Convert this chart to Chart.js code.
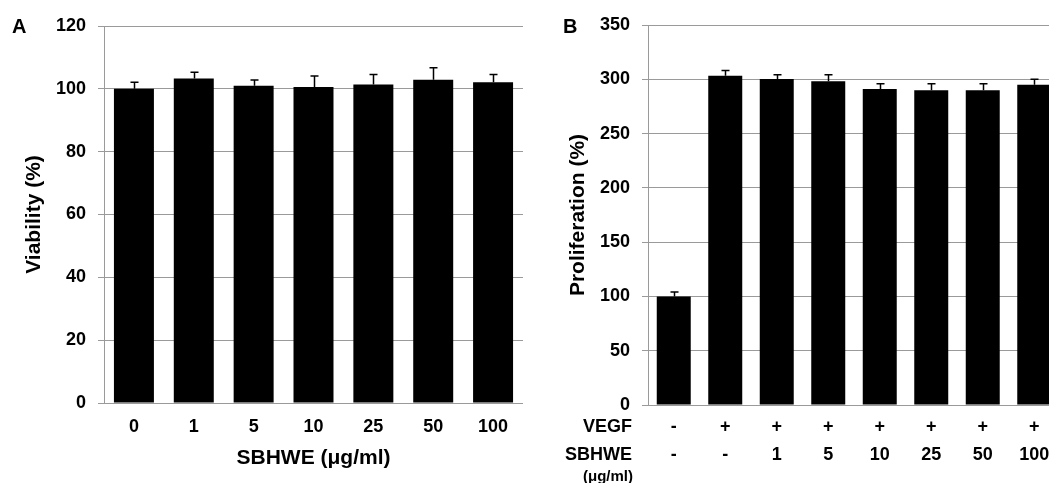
<!DOCTYPE html>
<html><head><meta charset="utf-8">
<script src="https://cdn.jsdelivr.net/npm/chart.js@4.4.0/dist/chart.umd.min.js"></script>
<style>
html,body{margin:0;padding:0;background:#fff;overflow:hidden;width:1049px;height:483px;position:relative;}
#a{position:absolute;left:0;top:0;}
#b{position:absolute;left:530px;top:0;}
.lbl{position:absolute;font:bold 20px "Liberation Sans",Arial,sans-serif;line-height:1;color:#000;}
</style></head><body>
<canvas id="a" width="530" height="483"></canvas>
<canvas id="b" width="540" height="483"></canvas>
<div class="lbl" style="left:12px;top:16px">A</div>
<div class="lbl" style="left:563px;top:16px">B</div>
<script>
// ---- Panel A data ----
const doseLabels = ['0', '1', '5', '10', '25', '50', '100'];
const viability = [100, 103.3, 101.0, 100.6, 101.4, 102.9, 102.1];
const viabilityErr = [2.1, 2.0, 1.8, 3.5, 3.2, 3.8, 2.5];
const viabilityAxis = { min: 0, max: 120, step: 20 };

// ---- Panel B data ----
const vegfRow = ['-', '+', '+', '+', '+', '+', '+', '+'];
const sbhweRow = ['-', '-', '1', '5', '10', '25', '50', '100'];
const proliferation = [100, 303.2, 300.2, 298.3, 291.0, 290.0, 290.0, 295.0];
const proliferationErr = [4.0, 5.0, 4.0, 5.8, 5.0, 6.0, 6.0, 5.0];
const proliferationAxis = { min: 0, max: 350, step: 50 };
const rowTitles = ['VEGF', 'SBHWE', '(μg/ml)'];

const FONT = '"Liberation Sans", Arial, sans-serif';
const GRID = '#9a9a9a';

const errorBars = (errs) => ({
  id: 'errbars',
  afterDatasetsDraw(chart) {
    const ctx = chart.ctx;
    const ys = chart.scales.y;
    const meta = chart.getDatasetMeta(0);
    const vals = chart.data.datasets[0].data;
    ctx.save();
    ctx.strokeStyle = '#000';
    ctx.lineWidth = 1.5;
    meta.data.forEach((bar, i) => {
      const x = Math.round(bar.x) + 0.5;
      const yTop = ys.getPixelForValue(vals[i] + errs[i]);
      const yBase = ys.getPixelForValue(vals[i]);
      ctx.beginPath();
      ctx.moveTo(x, yBase);
      ctx.lineTo(x, yTop);
      ctx.moveTo(x - 4, yTop);
      ctx.lineTo(x + 4, yTop);
      ctx.stroke();
    });
    ctx.restore();
  }
});

function yScale(axis, titleText, width, titlePad) {
  return {
    min: axis.min, max: axis.max,
    ticks: { stepSize: axis.step, color: '#000', padding: 12, font: { family: FONT, size: 18, weight: 'bold' } },
    grid: { color: GRID, lineWidth: 1, tickLength: 6, drawTicks: true },
    border: { color: GRID, width: 1 },
    title: { display: true, text: titleText, color: '#000', padding: { top: titlePad, bottom: 0 },
             font: { family: FONT, size: 21, weight: 'bold' } },
    afterFit(s) { s.width = width; }
  };
}

new Chart(document.getElementById('a'), {
  type: 'bar',
  data: {
    labels: doseLabels,
    datasets: [{ data: viability, backgroundColor: '#000', borderWidth: 0,
                 categoryPercentage: 1, barPercentage: 0.668 }]
  },
  options: {
    responsive: false, animation: false,
    layout: { padding: { top: 26, right: 7, left: 0, bottom: 0 } },
    plugins: { legend: { display: false }, tooltip: { enabled: false } },
    scales: {
      x: {
        grid: { display: false, drawTicks: false },
        border: { display: false },
        ticks: { color: '#000', padding: 13, font: { family: FONT, size: 18, weight: 'bold' } },
        title: { display: true, text: 'SBHWE (μg/ml)', color: '#000', padding: { top: 0, bottom: 12 },
                 font: { family: FONT, size: 21, weight: 'bold' } },
        afterFit(s) { s.height = 80; }
      },
      y: yScale(viabilityAxis, 'Viability (%)', 104, 21.4)
    }
  },
  plugins: [errorBars(viabilityErr)]
});

const rowTitlePlugin = {
  id: 'rowtitles',
  afterDraw(chart) {
    const ctx = chart.ctx;
    const xs = chart.scales.x;
    ctx.save();
    ctx.fillStyle = '#000';
    ctx.textAlign = 'right';
    ctx.textBaseline = 'middle';
    ctx.font = 'bold 18px ' + FONT;
    ctx.fillText(rowTitles[0], xs.left - 16, xs.top + 21.7);
    ctx.fillText(rowTitles[1], xs.left - 16, xs.top + 50);
    ctx.font = 'bold 15px ' + FONT;
    ctx.fillText(rowTitles[2], xs.left - 15, xs.top + 71.7);
    ctx.restore();
  }
};

new Chart(document.getElementById('b'), {
  type: 'bar',
  data: {
    labels: vegfRow.map((v, i) => [v, sbhweRow[i]]),
    datasets: [{ data: proliferation, backgroundColor: '#000', borderWidth: 0,
                 categoryPercentage: 1, barPercentage: 0.66 }]
  },
  options: {
    responsive: false, animation: false,
    layout: { padding: { top: 25, right: 10, left: 0, bottom: 0 } },
    plugins: { legend: { display: false }, tooltip: { enabled: false } },
    scales: {
      x: {
        grid: { display: false, drawTicks: false },
        border: { display: false },
        ticks: { color: '#000', padding: 7.5, font: { family: FONT, size: 18, weight: 'bold', lineHeight: 1.57 } },
        afterFit(s) { s.height = 78; }
      },
      y: yScale(proliferationAxis, 'Proliferation (%)', 118, 35.4)
    }
  },
  plugins: [errorBars(proliferationErr), rowTitlePlugin]
});
</script>
</body></html>
